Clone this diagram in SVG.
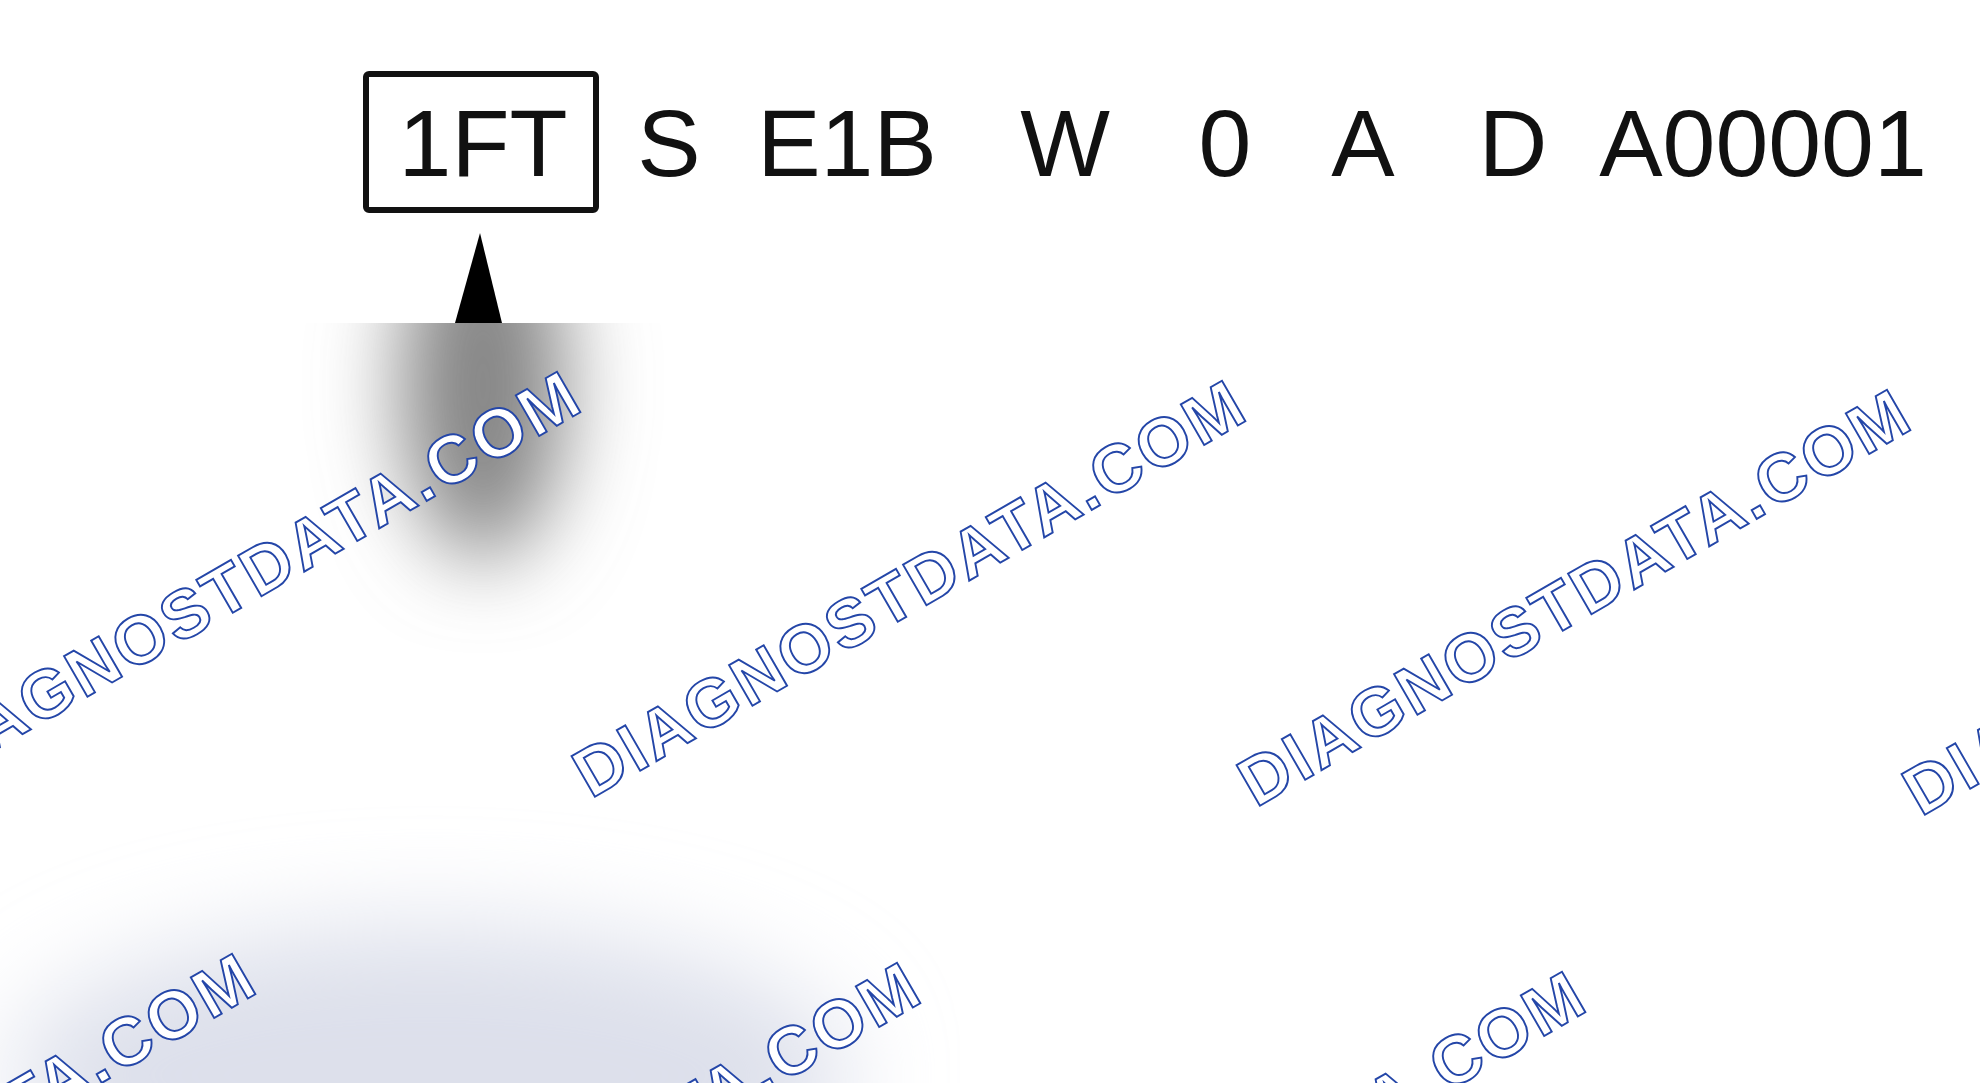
<svg xmlns="http://www.w3.org/2000/svg" width="1980" height="1083" viewBox="0 0 1980 1083">
  <style>
    .code { font-family: "Liberation Sans", Arial, sans-serif; font-size: 95px; fill: #111; text-anchor: middle; }
    .wm { font-family: "Liberation Sans", Arial, sans-serif; font-weight: bold; font-size: 68px; letter-spacing: 3px; fill: #ffffff; stroke: #2446a8; stroke-width: 1.9px; }
  </style>
  <defs>
    <filter id="blurBig" x="-100%" y="-100%" width="300%" height="300%">
      <feGaussianBlur stdDeviation="42"/>
    </filter>
    <filter id="blurSoft" x="-60%" y="-60%" width="220%" height="220%">
      <feGaussianBlur stdDeviation="50"/>
    </filter>
    <clipPath id="lower">
      <rect x="0" y="323" width="1980" height="760"/>
    </clipPath>
  </defs>

  <rect x="0" y="0" width="1980" height="1083" fill="#ffffff"/>

  <!-- blurred shading in lower area -->
  <g id="shading" clip-path="url(#lower)">
    <ellipse cx="483" cy="385" rx="82" ry="175" fill="#858585" filter="url(#blurBig)"/>
    <ellipse cx="430" cy="1075" rx="420" ry="150" fill="#dde0eb" filter="url(#blurSoft)"/>
  </g>

  <!-- code line -->
  <g id="node-1FT">
    <rect x="366" y="74" width="230" height="136" rx="3" fill="none" stroke="#111" stroke-width="6"/>
    <text class="code" x="483" y="176">1FT</text>
  </g>
  <g id="node-S"><text class="code" x="669" y="176">S</text></g>
  <g id="node-E1B"><text class="code" x="847" y="176">E1B</text></g>
  <g id="node-W"><text class="code" x="1065" y="176">W</text></g>
  <g id="node-0"><text class="code" x="1225" y="176">0</text></g>
  <g id="node-A"><text class="code" x="1363" y="176">A</text></g>
  <g id="node-D"><text class="code" x="1513" y="176">D</text></g>
  <g id="node-A00001"><text class="code" x="1763" y="176">A00001</text></g>

  <!-- connector: arrow pointing to the boxed code -->
  <g id="connectors">
    <polygon points="480,233 502,323 455,323" fill="#000"/>
  </g>

  <!-- watermarks -->
  <g id="watermarks" clip-path="url(#lower)">
    <text class="wm" transform="translate(-74,790) rotate(-30)">DIAGNOSTDATA.COM</text>
    <text class="wm" transform="translate(591,799) rotate(-30)">DIAGNOSTDATA.COM</text>
    <text class="wm" transform="translate(1256,808) rotate(-30)">DIAGNOSTDATA.COM</text>
    <text class="wm" transform="translate(1921,817) rotate(-30)">DIAGNOSTDATA.COM</text>
    <text class="wm" transform="translate(-399,1372) rotate(-30)">DIAGNOSTDATA.COM</text>
    <text class="wm" transform="translate(266,1381) rotate(-30)">DIAGNOSTDATA.COM</text>
    <text class="wm" transform="translate(931,1390) rotate(-30)">DIAGNOSTDATA.COM</text>
  </g>
</svg>
